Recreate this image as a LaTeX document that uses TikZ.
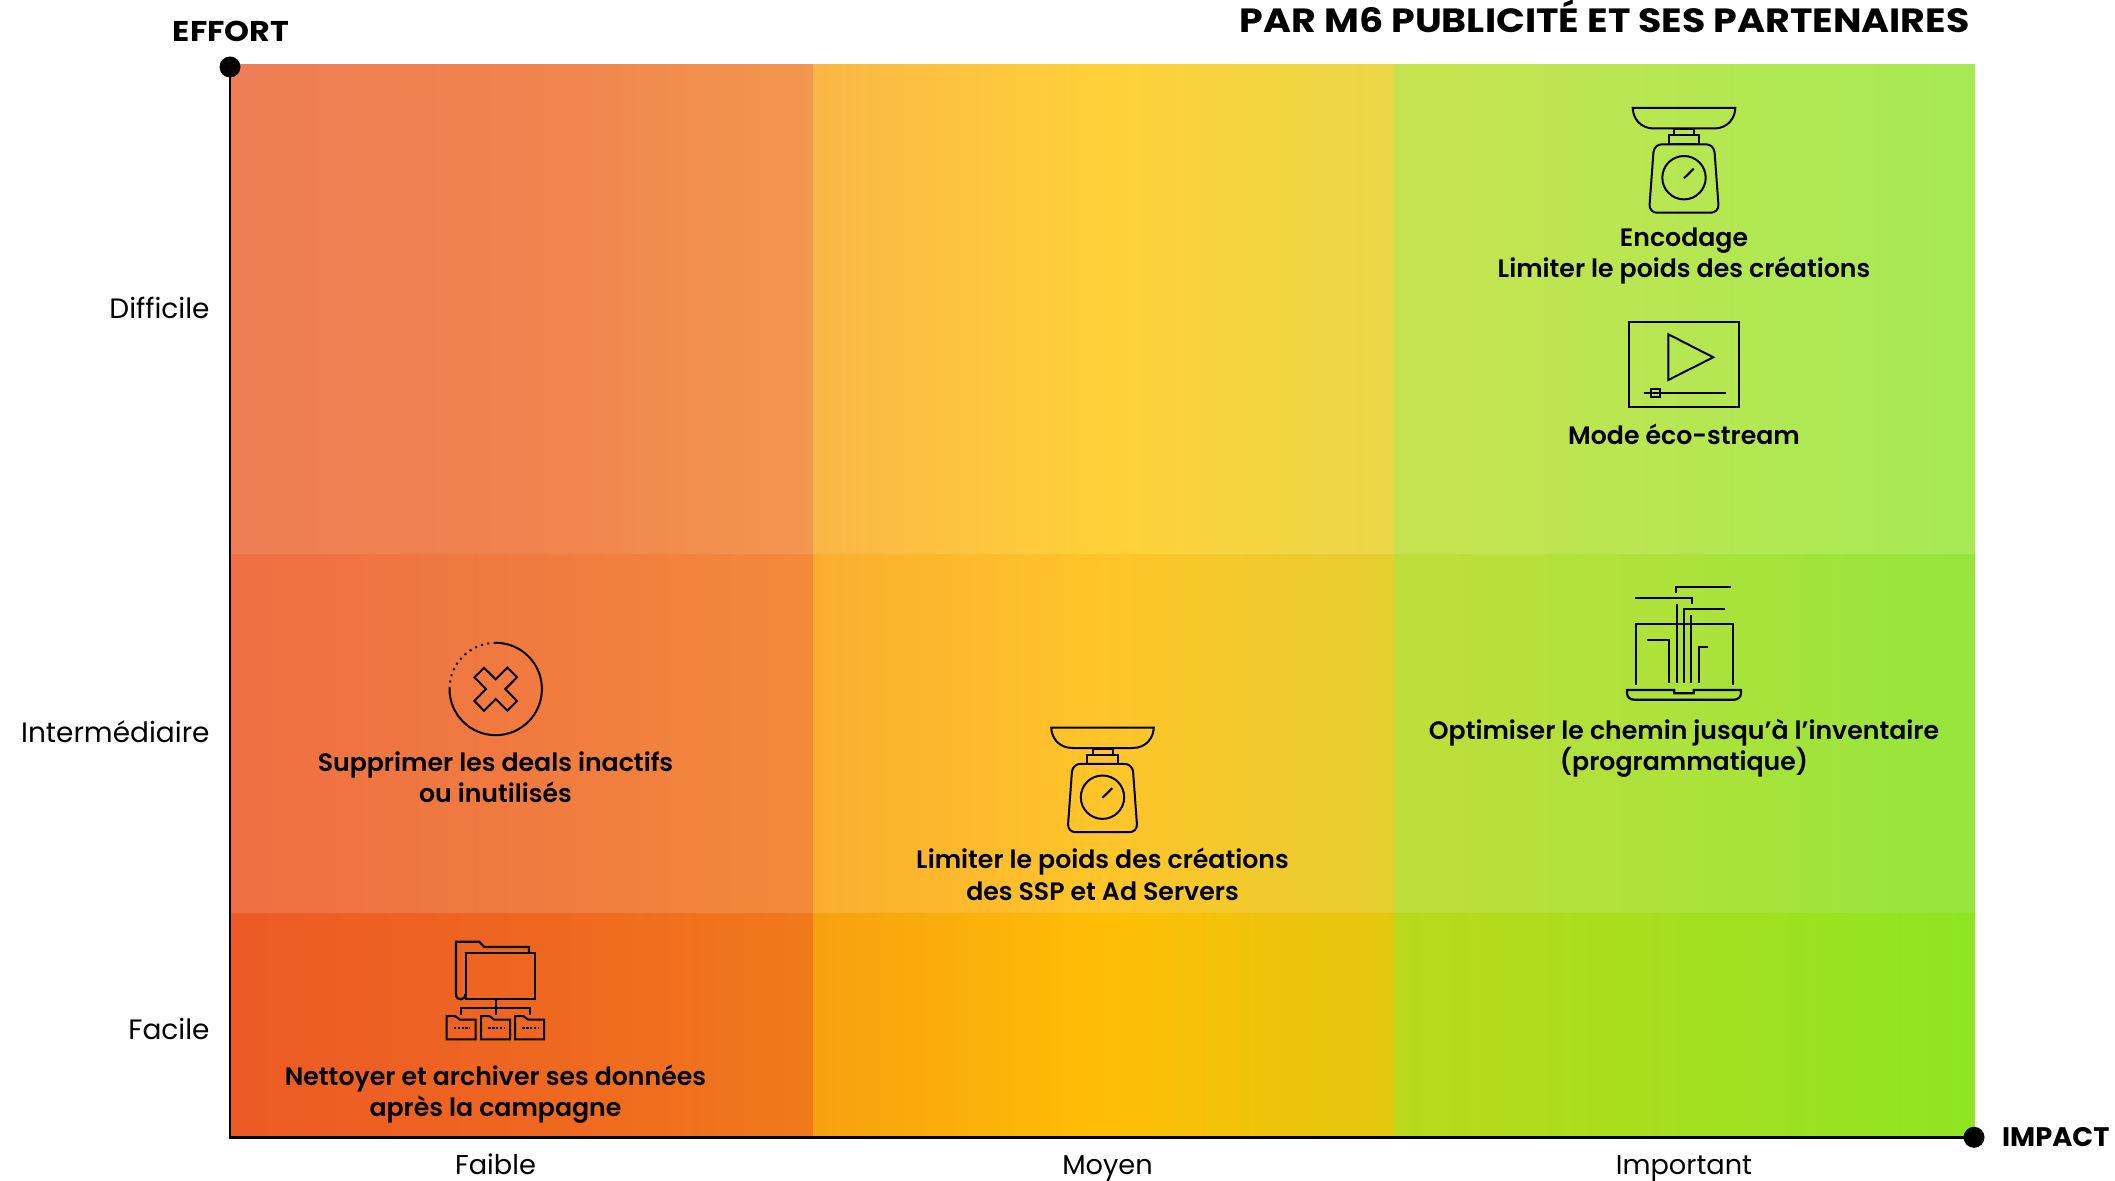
\documentclass[tikz,border=0pt]{standalone}
\usepackage{fontspec}
\setmainfont{Poppins}
\newfontfamily\medf{Poppins SemiBold}
\newfontfamily\titlef[FakeStretch=1.13]{Poppins Bold}
\newfontfamily\efff[FakeStretch=1.11]{Poppins Bold}
\newfontfamily\impf[FakeStretch=1.02]{Poppins Bold}
\definecolor{a1}{HTML}{EE7E55}\definecolor{a2}{HTML}{F0834F}\definecolor{a3}{HTML}{F3964E}
\definecolor{b1}{HTML}{FAB646}\definecolor{b2}{HTML}{FFD139}\definecolor{b3}{HTML}{EBD748}
\definecolor{c1}{HTML}{C8E350}\definecolor{c2}{HTML}{B6E752}\definecolor{c3}{HTML}{A6EA55}
\definecolor{d1}{HTML}{EE7043}\definecolor{d2}{HTML}{F07A40}\definecolor{d3}{HTML}{F38A3A}
\definecolor{e1}{HTML}{FAAE30}\definecolor{e2}{HTML}{FFC52A}\definecolor{e3}{HTML}{E5CE2F}
\definecolor{f1}{HTML}{C0DE3A}\definecolor{f2}{HTML}{ACE23B}\definecolor{f3}{HTML}{95E53C}
\definecolor{g1}{HTML}{EC5A25}\definecolor{g2}{HTML}{EE6621}\definecolor{g3}{HTML}{F1791B}
\definecolor{h1}{HTML}{F7A010}\definecolor{h2}{HTML}{FFBE05}\definecolor{h3}{HTML}{E3C70F}
\definecolor{i1}{HTML}{BAD91B}\definecolor{i2}{HTML}{A4DF1F}\definecolor{i3}{HTML}{8FE522}
\tikzset{
  cell/.style n args={3}{left color=#1,right color=#3,middle color=#2},
  icon/.style={draw=black,line width=1pt,line join=miter},
  action/.style={font=\medf\fontsize{12.6}{15.7}\selectfont,align=center,text=black,inner sep=0pt,anchor=base},
  axislabel/.style={font=\fontsize{14}{16}\selectfont,text=black,inner sep=0pt},
  bottomlabel/.style={font=\fontsize{13.6}{16}\selectfont,text=black,inner sep=0pt,anchor=base},
  axisdot/.style={circle,fill=black,minimum size=10.5pt,inner sep=0pt},
  scaleicon/.pic={
    \draw[icon] (-51.3,0) .. controls (-51,10) and (-44,20.5) .. (-30,20.5) -- (30,20.5) .. controls (44,20.5) and (51,10) .. (51.3,0) -- cycle;
    \draw[icon] (-10,21) rectangle (10,27);
    \draw[icon] (-15.3,27) rectangle (15.3,36.3);
    \draw[icon,rounded corners=4pt] (-30,36.3) -- (30,36.3) -- (35,104.7) -- (-35,104.7) -- cycle;
    \draw[icon] (0,69.7) circle[radius=10.85pt];
    \draw[icon] (0,70.3) -- (9.7,60.7);
  },
  subfolder/.pic={
    \draw[icon] (0,0) -- (8.3,0) -- (13.3,3.7) -- (29,3.7) -- (29,23.3) -- (0,23.3) -- cycle;
    \draw[icon,dash pattern=on 1.2pt off .7pt] (7.3,11.7) -- (22.6,11.7);
  }
}
\begin{document}
\begin{tikzpicture}[x=0.5pt,y=-0.5pt]
\useasboundingbox (0,0) rectangle (2115,1181);
% cells
\shade[cell={a1}{a2}{a3}] (230,65) rectangle (813,554.5);
\shade[cell={b1}{b2}{b3}] (813,65) rectangle (1394,554.5);
\shade[cell={c1}{c2}{c3}] (1394,65) rectangle (1975,554.5);
\shade[cell={d1}{d2}{d3}] (230,554.5) rectangle (813,913.5);
\shade[cell={e1}{e2}{e3}] (813,554.5) rectangle (1394,913.5);
\shade[cell={f1}{f2}{f3}] (1394,554.5) rectangle (1975,913.5);
\shade[cell={g1}{g2}{g3}] (230,913.5) rectangle (813,1137);
\shade[cell={h1}{h2}{h3}] (813,913.5) rectangle (1394,1137);
\shade[cell={i1}{i2}{i3}] (1394,913.5) rectangle (1975,1137);
% axes
\node[axisdot] (effortdot) at (230,67) {};
\node[axisdot] (impactdot) at (1974,1137.3) {};
\coordinate (origin) at (230,1137.3);
\draw[black,line width=1.3pt] (effortdot.center) -- (origin) -- (impactdot.center);
% titles
\node[font=\titlef\fontsize{16.8}{20}\selectfont,anchor=base east,inner sep=0pt] (title) at (1970,32.7) {PAR M6 PUBLICITÉ ET SES PARTENAIRES};
\node[font=\efff\fontsize{14.3}{16}\selectfont,anchor=base,inner sep=0pt] (effort) at (231,41.7) {EFFORT};
\node[font=\impf\fontsize{13.4}{16}\selectfont,anchor=base west,inner sep=0pt] (impact) at (2001.7,1146.7) {IMPACT};
% axis labels
\node[axislabel,anchor=base east] (difficile) at (210,319) {Difficile};
\node[axislabel,anchor=base east] (intermediaire) at (210,742.5) {Intermédiaire};
\node[axislabel,anchor=base east] (facile) at (210,1039) {Facile};
\node[bottomlabel] (faible) at (495.5,1174.5) {Faible};
\node[bottomlabel] (moyen) at (1107.5,1174.5) {Moyen};
\node[bottomlabel] (important) at (1684,1174.5) {Important};
% actions
\node[action] (encodage) at (1684,277.5) {Encodage\\Limiter le poids des créations};
\node[action] (eco) at (1684,444.5) {Mode éco-stream};
\node[action] (optim) at (1684,770.5) {Optimiser le chemin jusqu’à l’inventaire\\(programmatique)};
\node[action] (suppr) at (495.5,802.5) {Supprimer les deals inactifs\\ou inutilisés};
\node[action] (limiter) at (1102.5,900.3) {Limiter le poids des créations\\des SSP et Ad Servers};
\node[action] (nettoyer) at (495.5,1116.7) {Nettoyer et archiver ses données\\après la campagne};
% scale icons
\pic at (1684,108) {scaleicon};
\pic at (1102.5,727.5) {scaleicon};
% video icon
\draw[icon] (1629,322.3) rectangle (1739,406.7);
\draw[icon] (1668.3,334.3) -- (1668.3,380) -- (1713.3,357.3) -- cycle;
\draw[icon] (1643.7,392.7) -- (1725.7,392.7);
\draw[icon] (1651,388.7) rectangle (1660.3,397);
% laptop icon
\begin{scope}[icon,line width=1.1pt]
\draw (1636,685) -- (1636,624.3) -- (1733,624.3) -- (1733,685);
\draw (1646.7,639.7) -- (1669,639.7) -- (1669,683);
\draw (1676.7,604) -- (1676.7,683);
\draw (1725.3,609.3) -- (1683.7,609.3) -- (1683.7,683);
\draw (1691.3,615.3) -- (1691.3,683);
\draw (1708.3,647) -- (1699,647) -- (1699,683);
\draw (1635.3,598.3) -- (1691.7,598.3) -- (1691.7,604);
\draw (1676,592.7) -- (1676,586.7) -- (1731,586.7);
\draw (1627,690) -- (1674.3,690) -- (1674.3,693.3) -- (1693.7,693.3) -- (1693.7,690) -- (1741,690) -- (1741,693) .. controls (1741,697) and (1738,699.7) .. (1734,699.7) -- (1634.3,699.7) .. controls (1630,699.7) and (1627,697) .. (1627,693) -- cycle;
\end{scope}
% folder icon
\begin{scope}[icon,line width=1.1pt]
\draw (529,953) -- (529,947) -- (484.3,947) -- (479.3,941.7) -- (456,941.7) -- (456,994) .. controls (456,998) and (458,999.3) .. (460.7,999.3) .. controls (463.5,999.3) and (465.7,997) .. (465.7,994);
\draw (465.7,953) rectangle (535,999.3);
\draw (496,999.3) -- (496,1015);
\draw (461,1015) -- (461,1008) -- (530,1008) -- (530,1015);
\end{scope}
\pic[line width=1.1pt] at (446.7,1016) {subfolder};
\pic[line width=1.1pt] at (481,1016) {subfolder};
\pic[line width=1.1pt] at (515,1016) {subfolder};
% deleted icon
\begin{scope}[shift={(495.7,689)},x=0.5pt,y=0.5pt]
\draw[icon] (0,46.2) arc[start angle=90,end angle=-180,radius=23.1pt];
\draw[icon,dash pattern=on 1pt off 2.2pt] (0,46.2) arc[start angle=90,end angle=180,radius=23.1pt];
\draw[icon] (-11.7,21.3) -- (0,9.7) -- (11.7,21.3) -- (21.3,11.7) -- (9.7,0) -- (21.3,-12) -- (11.7,-21.7) -- (0,-10) -- (-11.7,-21.7) -- (-21.3,-12) -- (-9.7,0) -- (-21.3,11.7) -- cycle;
\end{scope}
\end{tikzpicture}
\end{document}
